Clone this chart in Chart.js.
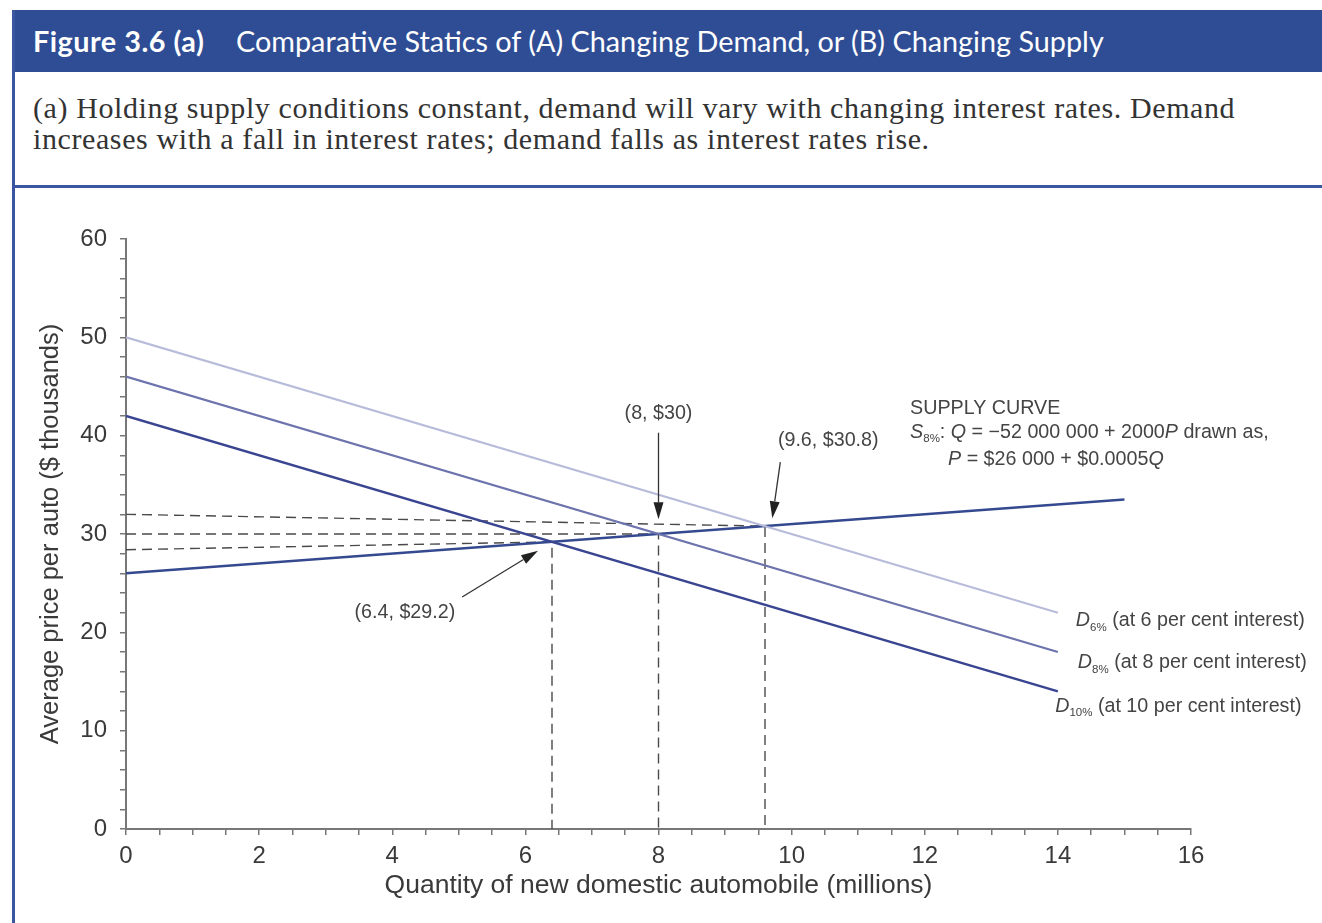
<!DOCTYPE html>
<html>
<head>
<meta charset="utf-8">
<script src="https://cdn.jsdelivr.net/npm/chart.js@4.4.1/dist/chart.umd.min.js"></script>
<style>
  html, body { margin: 0; padding: 0; background: #fff; }
  body { width: 1322px; height: 923px; position: relative; overflow: hidden; }
  #hdr { position: absolute; left: 12px; top: 10px; width: 1310px; height: 62px; background: #2f4d94;
         color: #fff; font-family: Lato, "Open Sans", sans-serif; font-size: 28.8px; line-height: 62px; }
  #hdr b { position: absolute; left: 21px; font-weight: 700; letter-spacing: 0.5px; }
  #hdr span { position: absolute; left: 224px; }
  #bordL { position: absolute; left: 12px; top: 10px; width: 3px; height: 913px; background: #3a56a0; }
  #bordH { position: absolute; left: 12px; top: 185px; width: 1310px; height: 3px; background: #3a56a0; }
  #cap { position: absolute; left: 33px; top: 92px; width: 1285px; color: #333; white-space: nowrap;
         font-family: "Liberation Serif", serif; font-size: 30px; line-height: 31px; letter-spacing: 0.6px; }
  #wrap { position: absolute; left: 0; top: 190px; width: 1322px; height: 733px; }
</style>
</head>
<body>
<div id="hdr"><b>Figure 3.6 (a)</b><span>Comparative Statics of (A) Changing Demand, or (B) Changing Supply</span></div>
<div id="bordL"></div>
<div id="cap">(a) Holding supply conditions constant, demand will vary with changing interest rates. Demand<br>increases with a fall in interest rates; demand falls as interest rates rise.</div>
<div id="bordH"></div>
<div id="wrap"><canvas id="grafico" width="1322" height="733"></canvas></div>
<script>
// demand curves, drawn from Q = 0 to Q = 14 (millions)
const qDemanda = [0, 14];
const d6 = [50, 22];
const d8 = [46, 18];
const d10 = [42, 14];
// supply curve P = 26 + 0.5Q
const qOferta = [0, 15];
const pOferta = [26, 33.5];
// equilibria
const eqQ = [6.4, 8, 9.6];
const eqP = [29.2, 30, 30.8];
// the dashed guides start a little off at Q = 0 in the original drawing
const guiaP0 = [28.4, 30, 32];

const xTicks = [0, 2, 4, 6, 8, 10, 12, 14, 16];
const yTicks = [0, 10, 20, 30, 40, 50, 60];

const pts = (xs, ys) => xs.map((x, i) => ({ x, y: ys[i] }));

const cinzaTexto = "#3a3a3a";
const fonteSans = "'Liberation Sans', Arial, sans-serif";

const linhas = [
  { label: "D6%", data: pts(qDemanda, d6), borderColor: "#b8bcdb", borderWidth: 2 },
  { label: "D8%", data: pts(qDemanda, d8), borderColor: "#6d73ad", borderWidth: 2.3 },
  { label: "D10%", data: pts(qDemanda, d10), borderColor: "#3a4592", borderWidth: 2.5 },
  { label: "S8%", data: pts(qOferta, pOferta), borderColor: "#34498f", borderWidth: 2.5 }
];

const guias = eqQ.map((q, i) => ({
  label: "guia" + i,
  data: [{ x: 0, y: guiaP0[i] }, { x: q, y: eqP[i] }, { x: q, y: 0 }],
  borderColor: "#4a4a4a", borderWidth: 1.4, borderDash: [10, 6], order: 5
}));

// annotation text (anchor in data units)
const rotulos = [
  { q: 8, p: 42.2, align: "center", runs: [{ t: "(8, $30)" }] },
  { q: 10.55, p: 39.5, align: "center", runs: [{ t: "(9.6, $30.8)" }] },
  { q: 4.19, p: 22.0, align: "center", runs: [{ t: "(6.4, $29.2)" }] },
  { q: 11.78, p: 42.8, align: "left", runs: [{ t: "SUPPLY CURVE" }] },
  { q: 11.78, p: 40.35, align: "left", runs: [{ t: "S", i: true }, { t: "8%", sub: true }, { t: ": " }, { t: "Q", i: true },
      { t: " = \u221252 000 000 + 2000" }, { t: "P", i: true }, { t: " drawn as," }] },
  { q: 12.35, p: 37.55, align: "left", runs: [{ t: "P", i: true }, { t: " = $26 000 + $0.0005" }, { t: "Q", i: true }] },
  { q: 14.27, p: 21.2, align: "left", runs: [{ t: "D", i: true }, { t: "6%", sub: true }, { t: " (at 6 per cent interest)" }] },
  { q: 14.3, p: 16.9, align: "left", runs: [{ t: "D", i: true }, { t: "8%", sub: true }, { t: " (at 8 per cent interest)" }] },
  { q: 13.96, p: 12.5, align: "left", runs: [{ t: "D", i: true }, { t: "10%", sub: true }, { t: " (at 10 per cent interest)" }] }
];

const setas = [
  { de: [8, 40.3], ate: [8, 31.5] },
  { de: [9.83, 37.3], ate: [9.71, 31.6] },
  { de: [5.05, 23.6], ate: [6.19, 28.3] }
];

const fonteRun = r => (r.i ? "italic " : "") + (r.sub ? "11.5px " : "19.7px ") + fonteSans;

const anotacoes = {
  id: "anotacoes",
  afterDatasetsDraw(c) {
    const ctx = c.ctx, sx = c.scales.x, sy = c.scales.y;
    ctx.save();
    ctx.fillStyle = "#444";
    ctx.textBaseline = "middle";
    rotulos.forEach(l => {
      let w = 0;
      l.runs.forEach(r => { ctx.font = fonteRun(r); w += ctx.measureText(r.t).width; });
      let x = sx.getPixelForValue(l.q);
      if (l.align === "center") x -= w / 2;
      const y = sy.getPixelForValue(l.p);
      ctx.textAlign = "left";
      l.runs.forEach(r => {
        ctx.font = fonteRun(r);
        ctx.fillText(r.t, x, r.sub ? y + 7 : y);
        x += ctx.measureText(r.t).width;
      });
    });
    ctx.strokeStyle = "#333";
    ctx.fillStyle = "#222";
    ctx.lineWidth = 1.3;
    setas.forEach(s => {
      const x1 = sx.getPixelForValue(s.de[0]), y1 = sy.getPixelForValue(s.de[1]);
      const x2 = sx.getPixelForValue(s.ate[0]), y2 = sy.getPixelForValue(s.ate[1]);
      const a = Math.atan2(y2 - y1, x2 - x1), L = 17, H = 5;
      const bx = x2 - L * Math.cos(a), by = y2 - L * Math.sin(a);
      ctx.beginPath(); ctx.moveTo(x1, y1); ctx.lineTo(bx, by); ctx.stroke();
      ctx.beginPath();
      ctx.moveTo(x2, y2);
      ctx.lineTo(bx + H * Math.sin(a), by - H * Math.cos(a));
      ctx.lineTo(bx - H * Math.sin(a), by + H * Math.cos(a));
      ctx.closePath(); ctx.fill();
    });
    ctx.restore();
  }
};

const eixo = {
  grid: { display: true, drawOnChartArea: false, drawTicks: true, tickLength: 6, color: "#777", lineWidth: 1.5 },
  border: { display: true, color: "#777", width: 2 }
};

new Chart(document.getElementById("grafico"), {
  type: "scatter",
  data: {
    datasets: [...linhas.map(l => ({ ...l, showLine: true, pointRadius: 0, order: 1 })),
               ...guias.map(g => ({ ...g, showLine: true, pointRadius: 0 }))]
  },
  options: {
    responsive: false,
    animation: false,
    devicePixelRatio: 1,
    layout: { padding: { left: 0, right: 131, top: 49, bottom: 0 } },
    plugins: { legend: { display: false }, tooltip: { enabled: false } },
    scales: {
      x: {
        ...eixo, type: "linear", min: 0, max: 16,
        afterFit: s => { s.height = 94; },
        ticks: { stepSize: 0.5, autoSkip: false, maxRotation: 0, padding: 7, color: cinzaTexto,
                 font: { family: fonteSans, size: 24 },
                 callback: v => xTicks.includes(v) ? String(v) : "" },
        title: { display: true, text: "Quantity of new domestic automobile (millions)", color: cinzaTexto,
                 font: { family: fonteSans, size: 26.5 }, padding: { top: 0, bottom: 21 } }
      },
      y: {
        ...eixo, type: "linear", min: 0, max: 60,
        afterFit: s => { s.width = 126; },
        ticks: { stepSize: 2, autoSkip: false, padding: 13, color: cinzaTexto,
                 font: { family: fonteSans, size: 24 },
                 callback: v => yTicks.includes(v) ? String(v) : "" },
        title: { display: true, text: "Average price per auto ($ thousands)", color: cinzaTexto,
                 font: { family: fonteSans, size: 25.5 }, padding: { top: 36, bottom: 0 } }
      }
    }
  },
  plugins: [anotacoes]
});
</script>
</body>
</html>
